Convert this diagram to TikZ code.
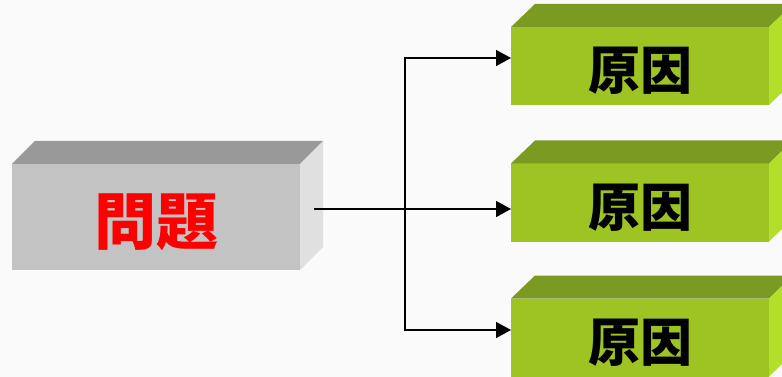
\documentclass[tikz,border=0pt]{standalone}
\usepackage{fontspec}
\newfontfamily\cjk{Noto Sans CJK JP}
\usetikzlibrary{arrows.meta,calc}
\definecolor{bg}{HTML}{FAFAFA}
\definecolor{grayfront}{HTML}{C3C3C3}
\definecolor{graytop}{HTML}{999999}
\definecolor{grayside}{HTML}{E0E0E0}
\definecolor{greenfront}{HTML}{9DC423}
\definecolor{greentop}{HTML}{7A9A22}
\definecolor{greenside}{HTML}{B3DF2A}
\tikzset{
  front/.style={inner sep=0pt, outer sep=0pt, anchor=center},
  graybox/.style={front, fill=grayfront, minimum width=288pt, minimum height=106pt,
    text=red, font=\cjk\bfseries\fontsize{62}{62}\selectfont},
  greenbox/.style={front, fill=greenfront, minimum width=258pt, minimum height=78pt,
    text=black, font=\cjk\bfseries\fontsize{52}{52}\selectfont},
  conn/.style={line width=1.5pt, black},
  arr/.style={conn, -{Triangle[length=15pt,width=16pt]}}
}
\begin{document}
\begin{tikzpicture}[x=1pt,y=-1pt]
\fill[bg] (0,0) rectangle (782,377);
\useasboundingbox (0,0) rectangle (782,377);
% problem box
\node[graybox] (p) at (156,217) {\raisebox{-5pt}[\height][\depth]{問題}};
\fill[graytop] (p.north west) -- ++(23,-23) -- ($(p.north east)+(23,-23)$) -- (p.north east) -- cycle;
\fill[grayside] (p.north east) -- ++(23,-23) -- ($(p.south east)+(23,-23)$) -- (p.south east) -- cycle;
% cause boxes
\foreach \n/\y in {c1/66, c2/202.5, c3/337.5}{
  \node[greenbox] (\n) at (640,\y) {\raisebox{-5pt}[\height][\depth]{原因}};
  \fill[greentop] (\n.north west) -- ++(24,-23) -- ($(\n.north east)+(24,-23)$) -- (\n.north east) -- cycle;
  \fill[greenside] (\n.north east) -- ++(24,-23) -- ($(\n.south east)+(24,-23)$) -- (\n.south east) -- cycle;
}
% connectors
\coordinate (s) at (314,209);
\coordinate (jt) at (405,58);
\coordinate (jb) at (405,330);
\draw[arr] (s) -- (c2.west |- s);
\draw[arr] (jb) -- (jt) -- (jt -| c1.west);
\draw[arr] (jt) -- (jb) -- (jb -| c3.west);
\end{tikzpicture}
\end{document}
